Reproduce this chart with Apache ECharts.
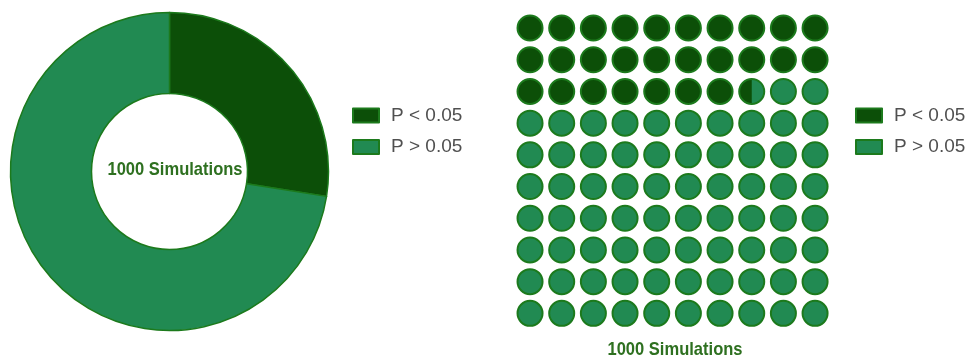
<!DOCTYPE html>
<html>
<head>
<meta charset="utf-8">
<script src="https://cdn.jsdelivr.net/npm/echarts@6/dist/echarts.min.js"></script>
<style>
  html, body { margin: 0; padding: 0; background: #fff; }
  #chart { width: 970px; height: 360px; }
</style>
</head>
<body>
<div id="chart"></div>
<script>
// Outcome of the simulation runs
const categories = ['P < 0.05', 'P > 0.05'];
const counts = [275, 725];
const totalRuns = 1000;
const captionText = '1000 Simulations';

// Waffle grid dimensions
const gridCols = 10;
const gridRows = 10;

const darkGreen = '#0c4f08';
const lightGreen = '#218a52';
const edgeGreen = '#1c7a1c';

// One cell per percent; the share of each cell that belongs to the first category
const cellUnits = totalRuns / (gridCols * gridRows);
const waffleCells = [];
for (let i = 0; i < gridCols * gridRows; i++) {
  const share = Math.max(0, Math.min(1, counts[0] / cellUnits - i));
  waffleCells.push([i % gridCols, Math.floor(i / gridCols), share]);
}

// Height of a left-hand circular segment that covers the given share of the disc
function segmentHeight(r, share) {
  let lo = 0, hi = 2 * r;
  for (let k = 0; k < 50; k++) {
    const h = (lo + hi) / 2;
    const a = r * r * Math.acos((r - h) / r) - (r - h) * Math.sqrt(2 * r * h - h * h);
    if (a / (Math.PI * r * r) < share) lo = h; else hi = h;
  }
  return (lo + hi) / 2;
}

function renderCell(params, api) {
  const center = api.coord([api.value(0) + 0.5, api.value(1) + 0.5]);
  const size = api.size([1, 1]);
  const r = Math.min(size[0], size[1]) * 0.395;
  const share = api.value(2);
  const cx = center[0], cy = center[1];
  const children = [];
  if (share >= 1 || share <= 0) {
    children.push({
      type: 'circle',
      shape: { cx: cx, cy: cy, r: r },
      style: { fill: share >= 1 ? darkGreen : lightGreen, stroke: edgeGreen, lineWidth: 2 }
    });
  } else {
    children.push({
      type: 'circle',
      shape: { cx: cx, cy: cy, r: r },
      style: { fill: lightGreen }
    });
    const h = segmentHeight(r, share);
    const theta = Math.acos((r - h) / r);
    const pts = [];
    const steps = 48;
    for (let s = 0; s <= steps; s++) {
      const ang = Math.PI - theta + (2 * theta) * s / steps;
      pts.push([cx + r * Math.cos(ang), cy + r * Math.sin(ang)]);
    }
    children.push({
      type: 'polygon',
      shape: { points: pts },
      style: { fill: darkGreen }
    });
    children.push({
      type: 'circle',
      shape: { cx: cx, cy: cy, r: r },
      style: { fill: null, stroke: edgeGreen, lineWidth: 2 }
    });
  }
  return { type: 'group', children: children };
}

const chart = echarts.init(document.getElementById('chart'), null, { renderer: 'canvas' });

const legendCommon = {
  data: categories,
  orient: 'vertical',
  padding: 0,
  icon: 'rect',
  itemWidth: 26,
  itemHeight: 14,
  itemGap: 12.5,
  selectedMode: false,
  textStyle: {
    fontFamily: 'Liberation Sans, Arial, sans-serif',
    fontSize: 19,
    color: '#505050',
    lineHeight: 14,
    padding: [0, 0, 0, 7]
  }
};

// Caption text is drawn slightly condensed
const captionStyle = {
  text: captionText,
  textAlign: 'center', textVerticalAlign: 'middle',
  fontFamily: 'Liberation Sans, Arial, sans-serif',
  fontWeight: 'bold', fontSize: 19, fill: '#2e7020'
};

chart.setOption({
  animation: false,
  backgroundColor: '#ffffff',
  legend: [
    Object.assign({ left: 352, top: 106 }, legendCommon),
    Object.assign({ left: 855, top: 106 }, legendCommon)
  ],
  grid: { left: 514.2, top: 12.2, width: 316.7, height: 317 },
  xAxis: { type: 'value', min: 0, max: gridCols, show: false },
  yAxis: { type: 'value', min: 0, max: gridRows, inverse: true, show: false },
  graphic: [
    { type: 'text', x: 175, y: 170, scaleX: 0.87, style: captionStyle },
    { type: 'text', x: 675, y: 350, scaleX: 0.87, style: captionStyle }
  ],
  series: [
    {
      type: 'pie',
      center: [169.5, 171.5],
      radius: [78, 159],
      startAngle: 90,
      clockwise: true,
      label: { show: false },
      labelLine: { show: false },
      emphasis: { disabled: true },
      itemStyle: { borderColor: edgeGreen, borderWidth: 1.5 },
      data: categories.map((name, i) => ({
        name: name,
        value: counts[i],
        itemStyle: { color: i === 0 ? darkGreen : lightGreen }
      }))
    },
    {
      type: 'custom',
      renderItem: renderCell,
      data: waffleCells,
      silent: true
    }
  ]
});
</script>
</body>
</html>
